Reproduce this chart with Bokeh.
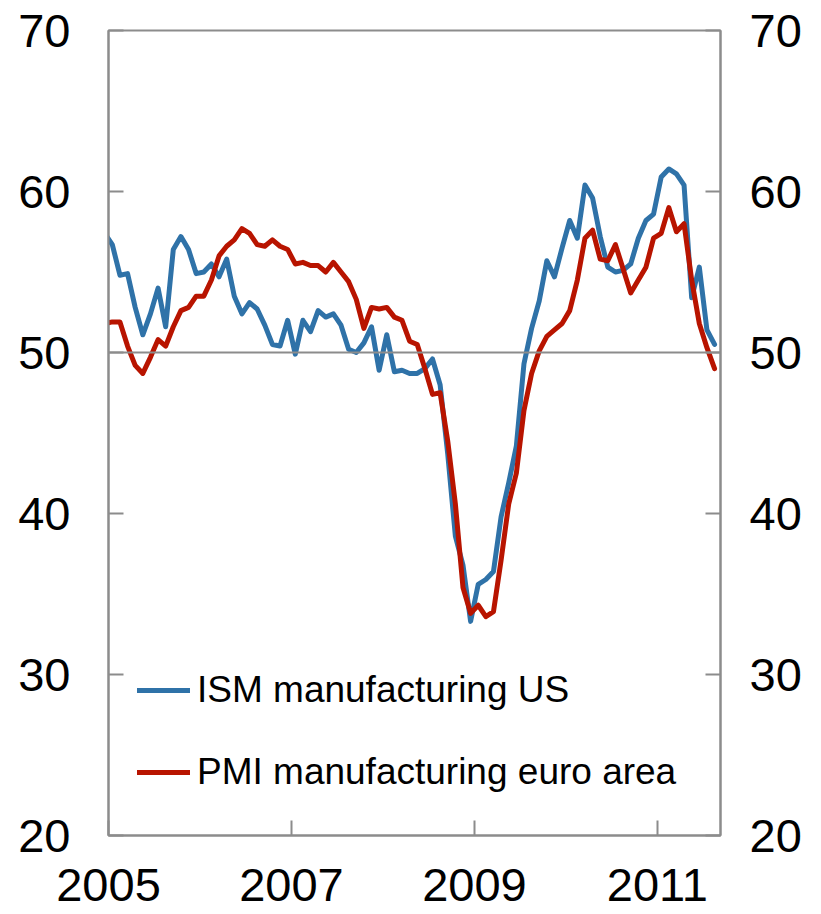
import pandas as pd
from bokeh.plotting import figure
from bokeh.models import (Range1d, LinearAxis, FixedTicker, Span, Legend, LegendItem,
                          ColumnDataSource)
from bokeh.embed import file_html
from bokeh.resources import INLINE

# ---- data (monthly, Dec 2004 - Aug 2011) ----
months = pd.date_range("2004-12-01", "2011-08-01", freq="MS")

ism_us = [57.4,
          56.7, 54.8, 54.9, 52.8, 51.1, 52.4, 54.0, 51.6, 56.4, 57.2, 56.4, 54.9,
          55.0, 55.5, 54.7, 55.8, 53.5, 52.4, 53.1, 52.7, 51.7, 50.5, 50.4, 52.0,
          49.9, 52.0, 51.3, 52.6, 52.2, 52.4, 51.7, 50.2, 50.0, 50.6, 51.6, 48.9,
          51.1, 48.8, 48.9, 48.7, 48.7, 49.0, 49.6, 48.0, 43.7, 38.6, 36.8, 33.3,
          35.6, 35.9, 36.4, 39.8, 41.9, 44.2, 49.3, 51.5, 53.2, 55.7, 54.7, 56.5,
          58.2, 57.1, 60.4, 59.6, 57.2, 55.3, 55.0, 55.1, 55.5, 57.1, 58.2, 58.6,
          60.9, 61.4, 61.1, 60.4, 53.4, 55.3, 51.4, 50.5]

pmi_euro = [51.8,
            51.9, 51.9, 50.4, 49.2, 48.7, 49.7, 50.8, 50.4, 51.6, 52.6, 52.8, 53.5,
            53.5, 54.5, 56.0, 56.6, 57.0, 57.7, 57.4, 56.7, 56.6, 57.0, 56.6, 56.4,
            55.5, 55.6, 55.4, 55.4, 55.0, 55.6, 55.0, 54.4, 53.3, 51.5, 52.8, 52.7,
            52.8, 52.2, 52.0, 50.7, 50.5, 49.0, 47.4, 47.5, 44.5, 40.6, 35.4, 33.8,
            34.3, 33.6, 33.9, 37.1, 40.6, 42.5, 46.4, 48.7, 50.1, 51.0, 51.4, 51.8,
            52.6, 54.5, 57.1, 57.6, 55.8, 55.7, 56.7, 55.2, 53.7, 54.5, 55.3, 57.1,
            57.4, 59.0, 57.5, 58.0, 54.5, 51.8, 50.3, 49.0]

series_names = ["ISM manufacturing US", "PMI manufacturing euro area"]
series_colors = ["#2F72A8", "#B81400"]
year_ticks = [2005, 2007, 2009, 2011]
value_ticks = [20, 30, 40, 50, 60, 70]
reference_level = 50
x_start, x_end = 2005, 2011.69
y_start, y_end = 20, 70

# mid-month positions in decimal years
xpos = [d.year + (d.month - 0.5) / 12 for d in months]
src = ColumnDataSource(dict(x=xpos, ism=ism_us, pmi=pmi_euro))

FONT = "Liberation Sans"
AXIS_COL = "#8C8C8C"

p = figure(width=813, height=914, output_backend="svg", toolbar_location=None,
           x_range=Range1d(x_start, x_end), y_range=Range1d(y_start, y_end),
           min_border_left=108, min_border_right=93, min_border_top=30,
           min_border_bottom=79)
p.background_fill_color = "white"
p.border_fill_color = "white"
p.xgrid.visible = False
p.ygrid.visible = False
p.outline_line_color = AXIS_COL
p.outline_line_width = 2

p.add_layout(LinearAxis(), "right")

for ax in p.yaxis:
    ax.ticker = FixedTicker(ticks=value_ticks)
    ax.major_tick_in = 15
    ax.major_tick_out = 0
    ax.minor_tick_in = 0
    ax.minor_tick_out = 0
    ax.axis_line_color = AXIS_COL
    ax.axis_line_width = 2
    ax.major_tick_line_color = AXIS_COL
    ax.major_tick_line_width = 2
    ax.major_label_text_font = FONT
    ax.major_label_text_font_size = "47px"
    ax.major_label_text_color = "black"
p.yaxis[0].major_label_standoff = 38
p.yaxis[1].major_label_standoff = 29

xa = p.xaxis[0]
xa.ticker = FixedTicker(ticks=year_ticks)
xa.major_tick_in = 15
xa.major_tick_out = 0
xa.minor_tick_in = 0
xa.minor_tick_out = 0
xa.axis_line_color = AXIS_COL
xa.axis_line_width = 2
xa.major_tick_line_color = AXIS_COL
xa.major_tick_line_width = 2
xa.major_label_text_font = FONT
xa.major_label_text_font_size = "47px"
xa.major_label_text_color = "black"
xa.major_label_standoff = 33

p.add_layout(Span(location=reference_level, dimension="width",
                  line_color=AXIS_COL, line_width=2))

r1 = p.line("x", "ism", source=src, line_color=series_colors[0], line_width=5,
            line_join="round", line_cap="round")
r2 = p.line("x", "pmi", source=src, line_color=series_colors[1], line_width=5,
            line_join="round", line_cap="round")

legend = Legend(items=[LegendItem(label=series_names[0], renderers=[r1]),
                       LegendItem(label=series_names[1], renderers=[r2])],
                location=(29, 42), orientation="vertical",
                label_text_font=FONT, label_text_font_size="37px",
                label_text_color="black", glyph_width=53, glyph_height=20,
                label_standoff=7, spacing=40, padding=0, margin=0,
                border_line_alpha=0, background_fill_alpha=0)
p.add_layout(legend)

open("out.html", "w").write(file_html(p, INLINE))
